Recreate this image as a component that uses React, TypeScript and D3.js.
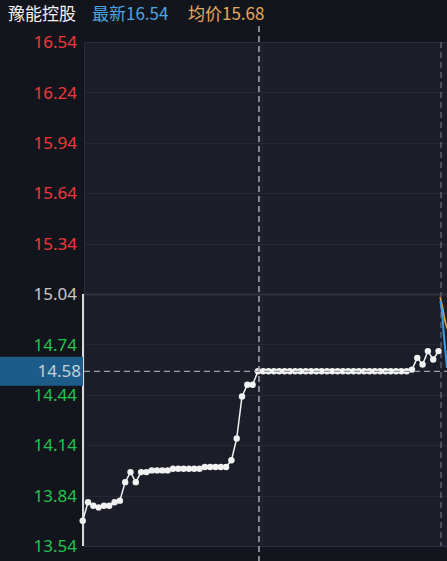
import React from "react";
import * as d3 from "d3";

const W = 447;
const H = 561;

const title = "豫能控股";
const latestLabel = "最新";
const latestValue = "16.54";
const avgLabel = "均价";
const avgValue = "15.68";

const yTicks = [16.54, 16.24, 15.94, 15.64, 15.34, 15.04, 14.74, 14.44, 14.14, 13.84, 13.54];
const preClose = 15.04;
const crossPrice = 14.58;
const crossIndex = 33.2;

const prices = [
  13.69, 13.8, 13.78, 13.77, 13.78, 13.78, 13.8, 13.81, 13.92, 13.98,
  13.92, 13.98, 13.98, 13.99, 13.99, 13.99, 13.99, 14.0, 14.0, 14.0,
  14.0, 14.0, 14.0, 14.01, 14.01, 14.01, 14.01, 14.01, 14.05, 14.18,
  14.43, 14.5, 14.5, 14.58, 14.58, 14.58, 14.58, 14.58, 14.58, 14.58,
  14.58, 14.58, 14.58, 14.58, 14.58, 14.58, 14.58, 14.58, 14.58, 14.58,
  14.58, 14.58, 14.58, 14.58, 14.58, 14.58, 14.58, 14.58, 14.58, 14.58,
  14.58, 14.58, 14.59, 14.66, 14.62, 14.7, 14.65, 14.7,
];

const nextPriceIdx = [67.35, 67.7, 68.0, 68.3, 68.6];
const nextPrice = [15.0, 14.92, 14.8, 14.7, 14.6];
const nextAvgIdx = [67.3, 67.7, 68.1, 68.4, 68.7];
const nextAvg = [15.02, 14.97, 14.9, 14.86, 14.83];

export default function App() {
  const panelL = 84;
  const panelT = 42;
  const panelB = 546;
  const y = d3.scaleLinear().domain([13.54, 16.54]).range([panelB, panelT]);
  const x = d3.scaleLinear().domain([0, prices.length - 1]).range([82.7, 438.5]);

  const line = d3
    .line<number>()
    .x((_, i) => x(i))
    .y((d) => y(d));

  const nextLine = (idx: number[], vals: number[]) =>
    d3
      .line<number>()
      .x((_, i) => x(idx[i]))
      .y((d) => y(d))
      .curve(d3.curveMonotoneX)(vals) || "";

  const tickColor = (v: number) =>
    v > preClose + 1e-6 ? "#f0393d" : v < preClose - 1e-6 ? "#22c34f" : "#c9c9c9";

  const cx = x(crossIndex);
  const cy = y(crossPrice);

  return (
    <svg
      width={W}
      height={H}
      style={{ position: "fixed", left: 0, top: 0, background: "#13151c" }}
      fontFamily="'Noto Sans', 'Noto Sans CJK SC', sans-serif"
    >
      <rect x={0} y={0} width={W} height={H} fill="#13151c" />
      <rect x={panelL} y={panelT} width={W - panelL} height={panelB - panelT} fill="#1b1e29" />
      <line x1={panelL} x2={W} y1={panelT + 0.5} y2={panelT + 0.5} stroke="#2a2e3a" />
      <line x1={panelL} x2={W} y1={panelB + 0.5} y2={panelB + 0.5} stroke="#2a2e3a" />
      <line x1={panelL + 0.5} x2={panelL + 0.5} y1={panelT} y2={panelB} stroke="#2a2e3a" />

      {yTicks.slice(1, -1).map((t) => (
        <line
          key={"g" + t}
          x1={panelL}
          x2={W}
          y1={Math.round(y(t)) + 0.5}
          y2={Math.round(y(t)) + 0.5}
          stroke={t === preClose ? "#2e323e" : "#252936"}
          strokeWidth={t === preClose ? 2 : 1}
        />
      ))}
      <line x1={262} x2={262} y1={panelT} y2={panelB} stroke="#272b37" />
      <line
        x1={441}
        x2={441}
        y1={panelT}
        y2={panelB}
        stroke="#5a5e6a"
        strokeWidth={1.5}
        strokeDasharray="6 4"
      />

      {yTicks.map((t) => (
        <text
          key={"t" + t}
          x={77}
          y={y(t)}
          dy="0.36em"
          textAnchor="end"
          fontSize={17}
          fill={tickColor(t)}
        >
          {t.toFixed(2)}
        </text>
      ))}

      <line x1={83} x2={83} y1={y(preClose)} y2={panelB} stroke="#d8d8d8" strokeWidth={2} />

      <path d={nextLine(nextAvgIdx, nextAvg)} fill="none" stroke="#e8a043" strokeWidth={1.6} />
      <path d={nextLine(nextPriceIdx, nextPrice)} fill="none" stroke="#3a9be0" strokeWidth={2} />

      <path d={line(prices) || ""} fill="none" stroke="#f2f2f2" strokeWidth={1.5} />
      {prices.map((p, i) => (
        <circle key={i} cx={x(i)} cy={y(p)} r={3.2} fill="#f2f2f2" />
      ))}

      <line
        x1={panelL}
        x2={W}
        y1={cy}
        y2={cy}
        stroke="#9a9ea8"
        strokeWidth={1.3}
        strokeDasharray="6 4"
      />
      <line
        x1={259}
        x2={259}
        y1={26}
        y2={H}
        stroke="#a8acb5"
        strokeWidth={1.5}
        strokeDasharray="6 4"
      />

      <rect x={0} y={cy - 14.5} width={83} height={29} fill="#1d5c88" />
      <text x={81} y={cy} dy="0.36em" textAnchor="end" fontSize={17} fill="#c5d0da">
        {crossPrice.toFixed(2)}
      </text>

      <text x={8} y={20} fontSize={17} fill="#f2f2f2" fontFamily="'Noto Sans CJK SC', sans-serif">
        {title}
      </text>
      <text x={92} y={20} fontSize={17} fill="#4ca6e4" fontFamily="'Noto Sans CJK SC', sans-serif">
        {latestLabel + latestValue}
      </text>
      <text x={188} y={20} fontSize={17} fill="#e7a95e" fontFamily="'Noto Sans CJK SC', sans-serif">
        {avgLabel + avgValue}
      </text>
    </svg>
  );
}
